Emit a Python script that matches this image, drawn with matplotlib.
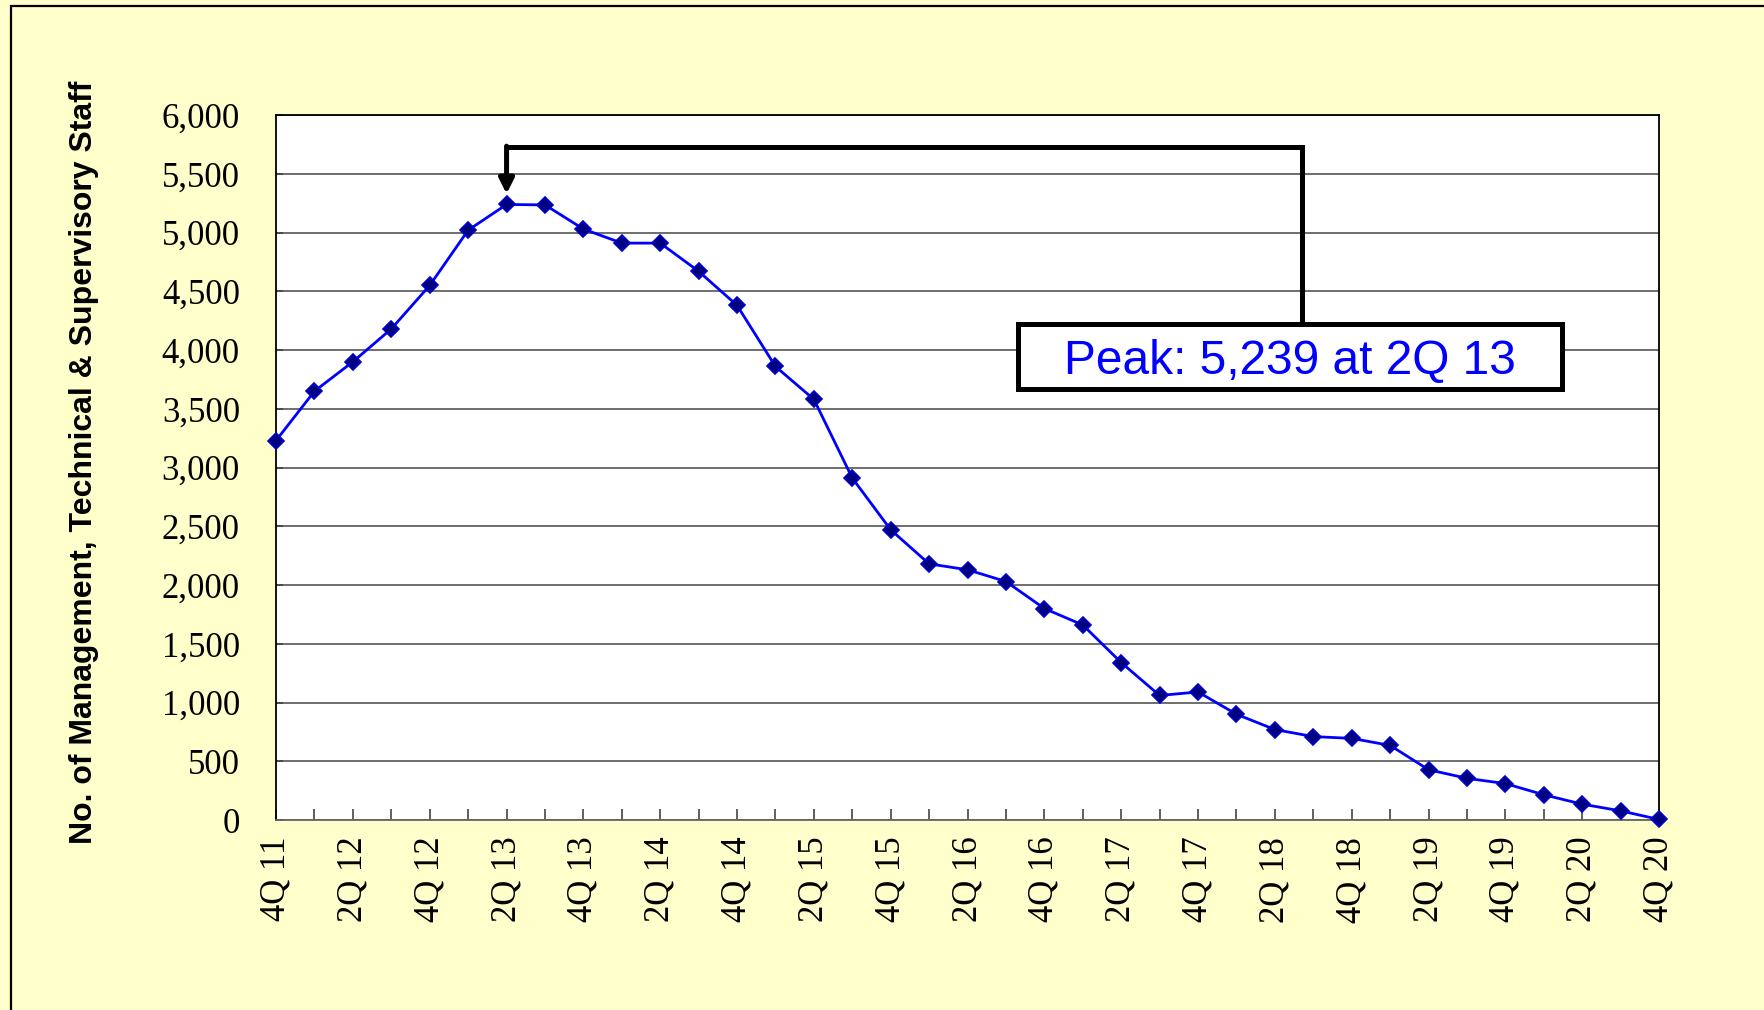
import numpy as np
import matplotlib
matplotlib.use('Agg')
import matplotlib.pyplot as plt
from matplotlib.patches import Rectangle
from matplotlib.ticker import FuncFormatter

# quarterly staff counts, 4Q 11 .. 4Q 20
quarters = ['4Q 11',
            '1Q 12', '2Q 12', '3Q 12', '4Q 12',
            '1Q 13', '2Q 13', '3Q 13', '4Q 13',
            '1Q 14', '2Q 14', '3Q 14', '4Q 14',
            '1Q 15', '2Q 15', '3Q 15', '4Q 15',
            '1Q 16', '2Q 16', '3Q 16', '4Q 16',
            '1Q 17', '2Q 17', '3Q 17', '4Q 17',
            '1Q 18', '2Q 18', '3Q 18', '4Q 18',
            '1Q 19', '2Q 19', '3Q 19', '4Q 19',
            '1Q 20', '2Q 20', '3Q 20', '4Q 20']
staff = [3230,
         3650, 3900, 4180, 4550,
         5020, 5239, 5235, 5030,
         4910, 4910, 4670, 4380,
         3860, 3580, 2910, 2470,
         2180, 2130, 2030, 1800,
         1660, 1340, 1060, 1090,
         900, 770, 710, 695,
         635, 428, 355, 310,
         215, 135, 78, 5]
peak_label = 'Peak: 5,239 at 2Q 13'
ylabel = 'No. of Management, Technical & Supervisory Staff'

bg = '#FFFFCC'
fig = plt.figure(figsize=(17.64, 10.10), dpi=100, facecolor=bg)
ax = fig.add_axes([0.1565, 0.1881, 0.784, 0.698])
ax.set_facecolor('white')

xs = np.arange(len(quarters))
ax.plot(xs, staff, color='#0000FF', lw=2.0, marker='D', markersize=8.5,
        markerfacecolor='#000080', markeredgecolor='#0000CC', markeredgewidth=1.2,
        clip_on=False, zorder=5)

ax.set_xlim(0, len(quarters) - 1)
ax.set_ylim(0, 6000)
ax.set_yticks(np.arange(0, 6001, 500))
ax.yaxis.set_major_formatter(FuncFormatter(lambda v, p: f'{int(v):,}'))
ax.grid(axis='y', color='#555555', lw=1.2)
ax.set_axisbelow(True)

ax.set_xticks(xs)
ax.set_xticklabels([q if i % 2 == 0 else '' for i, q in enumerate(quarters)],
                   rotation=90, family='Liberation Serif', fontsize=25)
for lab in ax.get_yticklabels():
    lab.set_family('Liberation Serif')
    lab.set_fontsize(25)
ax.tick_params(axis='x', direction='in', length=8, width=1.2, color='#444444', pad=12)
ax.tick_params(axis='y', direction='in', length=5, width=1.2, color='#444444', pad=26)

for s in ['left', 'right', 'top']:
    ax.spines[s].set_color('black')
    ax.spines[s].set_linewidth(1.3)
ax.spines['bottom'].set_color('#666666')
ax.spines['bottom'].set_linewidth(1.3)

fig.text(84 / 1764, 1 - 462 / 1010, ylabel, rotation=90, ha='center', va='center',
         family='Liberation Sans', fontweight='bold', fontsize=23)

# callout
peak_i = int(np.argmax(staff))
ax.plot([peak_i, peak_i, 26.71, 26.71], [5728, 5728, 5728, 4221],
        color='black', lw=3.6, solid_joinstyle='miter', zorder=6)
ax.annotate('', xy=(peak_i, staff[peak_i] + 90), xytext=(peak_i, 5735),
            arrowprops=dict(arrowstyle='-|>', color='black', lw=3.6,
                            mutation_scale=22, shrinkA=0, shrinkB=0), zorder=6)
ax.add_patch(Rectangle((0.5365, 0.611), 0.3935, 0.0925, transform=ax.transAxes,
                       facecolor='white', edgecolor='black', lw=3.6, zorder=7))
ax.text(0.733, 0.651, peak_label, transform=ax.transAxes, ha='center', va='center',
        color='#0000FF', family='Liberation Sans', fontsize=34.5, zorder=8)

fig.patches.append(Rectangle((11 / 1764, -0.1), 1.1, 1.1 - 6 / 1010,
                             transform=fig.transFigure, fill=False,
                             edgecolor='black', lw=1.6))

fig.savefig('out.png', dpi=100, facecolor=bg)
